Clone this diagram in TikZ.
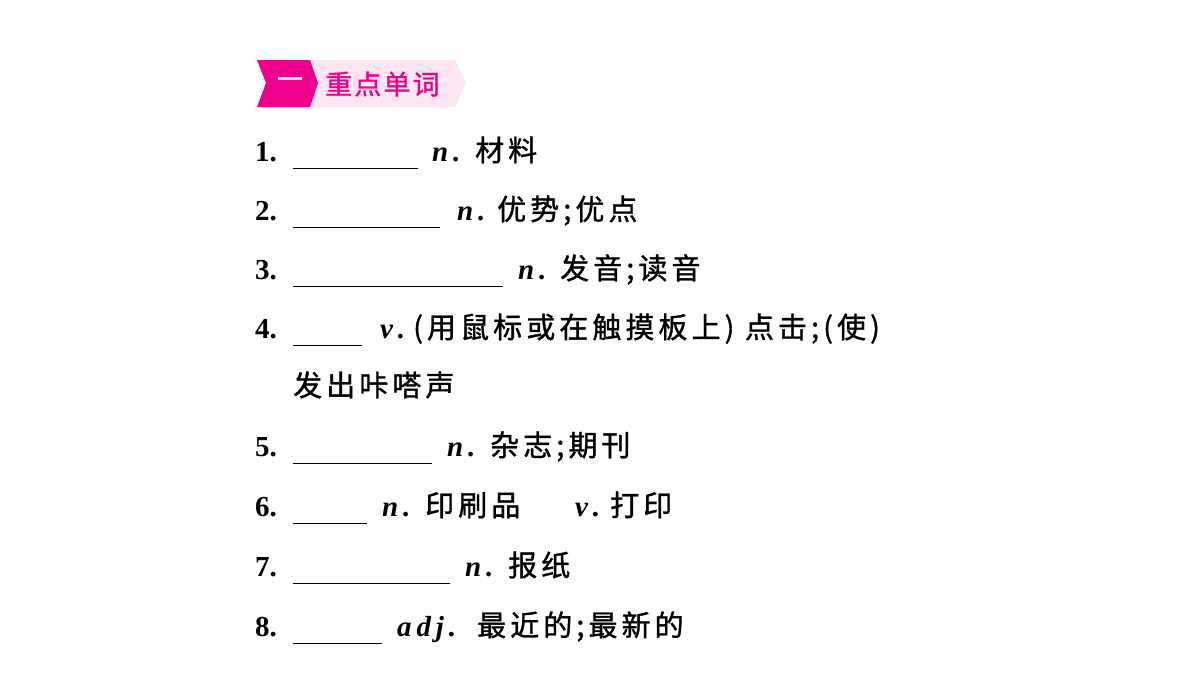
\documentclass[tikz,border=0pt]{standalone}
\usepackage{fontspec}
\setmainfont{Liberation Serif}
\newfontfamily\cjk[LetterSpace=14,FakeBold=1.2]{Noto Sans CJK SC}
\newfontfamily\cjkh[LetterSpace=8,FakeBold=1.2]{Noto Sans CJK SC}
\definecolor{mag}{HTML}{EC008C}
\definecolor{lpink}{HTML}{FDE6F1}
\begin{document}
\begin{tikzpicture}[x=1pt,y=-1pt,
  num/.style={anchor=base west,inner sep=0pt,font=\fontsize{29}{30}\selectfont\bfseries},
  wordpos/.style={anchor=base west,inner sep=0pt,font=\fontsize{29}{30}\selectfont\bfseries\itshape},
  zh/.style={anchor=base west,inner sep=0pt,font=\fontsize{29}{30}\selectfont\cjk},
  blank/.style={line width=1pt}]
\useasboundingbox (0,0) rectangle (1200,675);
\fill[lpink] (310,60) -- (455,60) -- (466,83) -- (455,107) -- (310,107) -- cycle;
\fill[mag] (257,60) -- (310,60) -- (318,83) -- (310,107) -- (257,107) -- (266,83) -- cycle;
\node[inner sep=0pt,text=white,font=\fontsize{26}{26}\selectfont\cjkh] (h1) at (290,83) {一};
\node[anchor=west,inner sep=0pt,text=mag,font=\fontsize{27}{27}\selectfont\cjkh] (h2) at (325,84) {重点单词};
\foreach \i/\y/\e in {1/161/418,2/220/440,3/279/503,4/338/362,5/456/432,6/516/367,7/576/450,8/636/382}{
  \node[num] (n\i) at (255,\y) {\i.};
  \draw[blank] (293,\y+7) -- (\e,\y+7);
}
\node[wordpos] (p1) at (432,161) {n\,.}; \node[zh] (z1) at (475,161) {材料};
\node[wordpos] (p2) at (457,220) {n\,.}; \node[zh] (z2) at (497,220) {优势;优点};
\node[wordpos] (p3) at (518,279) {n\,.}; \node[zh] (z3) at (560,279) {发音;读音};
\node[wordpos] (p4) at (380,338) {v\,.}; \node[zh] (z4) at (413,338) {(用鼠标或在触摸板上) 点击;(使)};
\node[zh] (z4b) at (293,396) {发出咔嗒声};
\node[wordpos] (p5) at (447,456) {n\,.}; \node[zh] (z5) at (490,456) {杂志;期刊};
\node[wordpos] (p6) at (382,516) {n\,.}; \node[zh] (z6) at (425,516) {印刷品};
\node[wordpos] (p6b) at (575,516) {v\,.}; \node[zh] (z6b) at (610,516) {打印};
\node[wordpos] (p7) at (465,576) {n\,.}; \node[zh] (z7) at (508,576) {报纸};
\node[wordpos] (p8) at (397,636) {a\,d\,j\,.}; \node[zh] (z8) at (477,636) {最近的;最新的};
\end{tikzpicture}
\end{document}
